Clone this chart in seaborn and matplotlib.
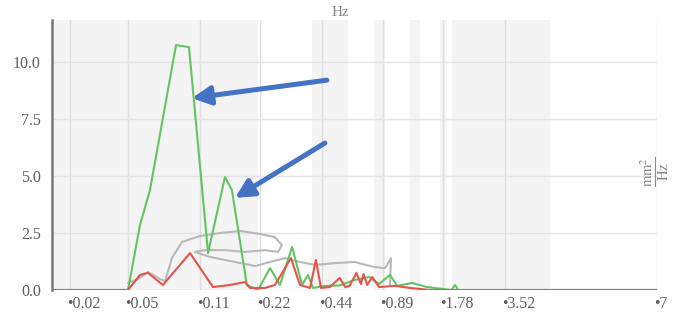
import numpy as np
import pandas as pd
import seaborn as sns
import matplotlib.pyplot as plt
from matplotlib.transforms import ScaledTranslation

# frequences (Hz) et densite spectrale (mm2/Hz)
green_f = [0.015, 0.05, 0.057, 0.0636, 0.0846, 0.0975, 0.1207, 0.1468, 0.159, 0.189,
           0.215, 0.246, 0.275, 0.315, 0.352, 0.376, 0.398, 0.455, 0.54, 0.64, 0.759,
           0.85, 0.965, 1.05, 1.244, 1.48, 1.95, 2.035, 2.1, 7.04]
green_v = [0, 0, 2.85, 4.39, 10.75, 10.66, 1.62, 4.96, 4.39, 0.22,
           0.0, 0.96, 0.22, 1.89, 0.22, 0.66, 0.09, 0.18, 0.2, 0.44, 0.57,
           0.26, 0.66, 0.18, 0.31, 0.13, 0, 0.22, 0, 0]

red_f = [0.015, 0.05, 0.057, 0.0622, 0.0733, 0.0986, 0.1278, 0.1556, 0.185, 0.196,
         0.2326, 0.26, 0.311, 0.344, 0.385, 0.411, 0.435, 0.482, 0.54, 0.575, 0.605,
         0.655, 0.69, 0.71, 0.742, 0.785, 0.85, 1.02, 1.216, 1.53, 7.04]
red_v = [0, 0, 0.66, 0.75, 0.22, 1.62, 0.13, 0.22, 0.35, 0.09,
         0.09, 0.22, 1.40, 0.22, 0.09, 1.32, 0.09, 0.13, 0.53, 0.13, 0.18,
         0.75, 0.26, 0.7, 0.22, 0.57, 0.13, 0.18, 0.09, 0, 0]

grey_f = [0.05, 0.0558, 0.0622, 0.071, 0.075, 0.0809, 0.0903, 0.11, 0.1386, 0.1746,
          0.22, 0.26, 0.281, 0.269, 0.2326, 0.185, 0.1468, 0.1165, 0.104, 0.1235,
          0.1648, 0.2077, 0.246, 0.291, 0.344, 0.407, 0.51, 0.64, 0.803, 0.911,
          0.976, 0.965]
grey_v = [0.31, 0.48, 0.79, 0.48, 0.39, 1.40, 2.11, 2.37, 2.50, 2.59,
          2.46, 2.32, 1.97, 1.67, 1.75, 1.67, 1.75, 1.75, 1.67, 1.45,
          1.23, 1.05, 1.23, 1.40, 1.23, 1.10, 1.18, 1.23, 1.01, 0.96,
          1.40, 0.22]

tick_f = [0.02, 0.05, 0.11, 0.22, 0.44, 0.89, 1.78, 3.52, 7.04]
tick_labels = ["•0.02", "•0.05", "•0.11", "•0.22", "•0.44", "•0.89", "•1.78", "•3.52", "•7"]
y_ticks = [0.0, 2.5, 5.0, 7.5, 10.0]

# bandes grises du fond (Hz)
bands = [(0.015, 0.215), (0.393, 0.591), (0.803, 0.911), (1.216, 1.365),
         (1.72, 1.862), (1.969, 4.32)]

# echelle de l'axe x : espacement irregulier des graduations
anchor_f = np.log([0.015, 0.02, 0.05, 0.11, 0.22, 0.44, 0.89, 1.78, 3.52, 7.04])
anchor_p = np.array([52, 70, 128, 200, 260, 322, 383, 443, 505, 657], dtype=float)
s0 = (anchor_p[1] - anchor_p[0]) / (anchor_f[1] - anchor_f[0])
s1 = (anchor_p[-1] - anchor_p[-2]) / (anchor_f[-1] - anchor_f[-2])
ext_f = np.concatenate([[anchor_f[0] - 10], anchor_f, [anchor_f[-1] + 10]])
ext_p = np.concatenate([[anchor_p[0] - 10 * s0], anchor_p, [anchor_p[-1] + 10 * s1]])


def fwd(x):
    x = np.asarray(x, dtype=float)
    return np.interp(np.log(np.clip(x, 1e-9, None)), ext_f, ext_p)


def inv(p):
    return np.exp(np.interp(np.asarray(p, dtype=float), ext_p, ext_f))


df = pd.concat([
    pd.DataFrame({"f": grey_f, "v": grey_v, "s": "grey"}),
    pd.DataFrame({"f": green_f, "v": green_v, "s": "green"}),
    pd.DataFrame({"f": red_f, "v": red_v, "s": "red"}),
])

sns.set_theme(style="white")
plt.rcParams["font.family"] = ["Liberation Serif", "DejaVu Serif"]
plt.rcParams["mathtext.fontset"] = "stix"

fig = plt.figure(figsize=(6.73, 3.15), dpi=100)
ax = fig.add_axes([52 / 673, 25 / 315, 605 / 673, 270 / 315])

for a, b in bands:
    ax.axvspan(a, b, color="#f4f4f4", lw=0, zorder=0)

palette = {"grey": "#b8b8b8", "green": "#62c462", "red": "#e5544c"}
for name in ["grey", "green", "red"]:
    sns.lineplot(data=df[df.s == name], x="f", y="v", color=palette[name],
                 sort=False, estimator=None, lw=1.5, ax=ax, zorder=3)

ax.set_xscale("function", functions=(fwd, inv))
ax.set_xlim(0.015, 7.04)
ax.set_ylim(0, 11.85)

ax.set_xticks(tick_f)
ax.set_xticklabels(tick_labels)
ax.set_yticks(y_ticks)
ax.set_yticklabels([f"{t:.1f}" for t in y_ticks])
ax.tick_params(axis="both", length=0, labelsize=11.5, labelcolor="#5e5e5e")
ax.tick_params(axis="x", pad=4)
ax.tick_params(axis="y", pad=8)
off = ScaledTranslation(-3 / 100, 0, fig.dpi_scale_trans)
for lab in ax.get_xticklabels():
    lab.set_horizontalalignment("left")
    lab.set_transform(lab.get_transform() + off)

ax.grid(True, axis="x", color="#dedede", lw=1)
ax.grid(True, axis="y", color="#e4e4e4", lw=1)
ax.set_axisbelow(True)
for side in ["top", "bottom", "right"]:
    ax.spines[side].set_visible(False)
ax.spines["left"].set_color("#777777")
ax.spines["left"].set_linewidth(1.8)
ax.set_xlabel("")
ax.set_ylabel("")

# fleches bleues
arrow = dict(arrowstyle="-|>,head_length=0.55,head_width=0.28", color="#4472c4",
             lw=3.6, mutation_scale=20, shrinkA=0, shrinkB=0)
ax.annotate("", xy=(0.1007, 8.42), xytext=(0.4655, 9.21), arrowprops=arrow, zorder=5)
ax.annotate("", xy=(0.1648, 4.04), xytext=(0.455, 6.45), arrowprops=arrow, zorder=5)

fig.text(340 / 673, 1 - 13 / 315, "Hz", ha="center", va="center",
         fontsize=11, color="#888888")
fig.text(655 / 673, 1 - 172 / 315, r"$\frac{\mathrm{mm}^2}{\mathrm{Hz}}$",
         rotation=90, ha="center", va="center", fontsize=15, color="#888888")

fig.savefig("out.png", dpi=100)
